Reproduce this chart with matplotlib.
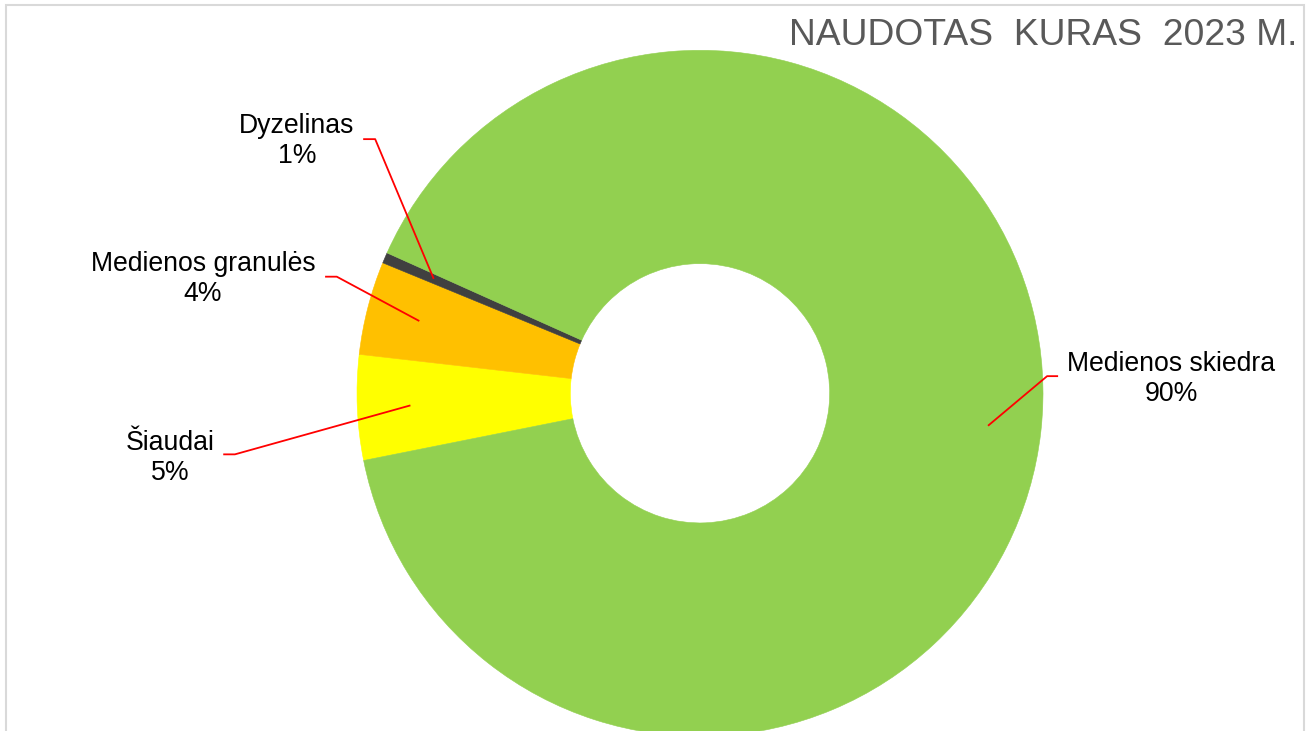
import matplotlib
matplotlib.use("Agg")
import matplotlib.pyplot as plt
import matplotlib.patches as mpatches
import numpy as np

# ── Data ───────────────────────────────────────────────────────────────────
CATEGORIES = ["Šiaudai", "Medienos granulės", "Dyzelinas", "Medienos skiedra"]
SHARES     = [4.95, 4.40, 0.50, 90.15]          # % of fuel used
COLOURS    = ["#FFFF00", "#FFC000", "#404040", "#92D050"]
TITLE      = "NAUDOTAS  KURAS  2023 M."

# label layout (data coords, pie radius = 1): text centre, leader end, elbow
LABEL_POS = {
    "Šiaudai":           ((-1.545, -0.188), (-1.390, -0.178), (-1.356, -0.178)),
    "Medienos granulės": ((-1.449, 0.333), (-1.093, 0.340), (-1.059, 0.340)),
    "Dyzelinas":         ((-1.175, 0.735), (-0.982, 0.741), (-0.947, 0.741)),
    "Medienos skiedra":  ((1.373, 0.043), (1.044, 0.050), (1.012, 0.050)),
}

W, H, DPI = 1313, 731, 100
plt.rcParams["font.family"] = ["Liberation Sans", "DejaVu Sans"]

fig = plt.figure(figsize=(W / DPI, H / DPI), dpi=DPI)

# outer chart border
fig.patches.append(mpatches.Rectangle(
    (6 / W, -0.05), 1298 / W, (H - 5) / H + 0.05,
    transform=fig.transFigure, fill=False, edgecolor="#D9D9D9", linewidth=1.5,
))

cx, cy, r = 700, H - 393.3, 343
ax = fig.add_axes([(cx - r) / W, (cy - r) / H, 2 * r / W, 2 * r / H])

wedges, _ = ax.pie(
    SHARES, colors=COLOURS, startangle=191.3, counterclock=False, radius=1,
    wedgeprops=dict(width=0.622, linewidth=0),
)
for w in wedges:
    w.set_edgecolor(w.get_facecolor())
    w.set_linewidth(0.4)
ax.set_xlim(-1, 1)
ax.set_ylim(-1, 1)
ax.set_aspect("equal")
ax.axis("off")

total = sum(SHARES)
for w, name, val in zip(wedges, CATEGORIES, SHARES):
    mid = np.deg2rad((w.theta1 + w.theta2) / 2)
    ax_x, ax_y = 0.845 * np.cos(mid), 0.845 * np.sin(mid)
    (tx, ty), (ex, ey), (kx, ky) = LABEL_POS[name]
    ax.plot([ax_x, kx, ex], [ax_y, ky, ey], color="#FF0000", linewidth=1.3,
            clip_on=False, solid_capstyle="butt")
    pct = int(np.floor(val / total * 100 + 0.5))
    ax.text(tx, ty, f"{name}\n{pct}%", ha="center", va="center",
            fontsize=19.2, color="#000000", linespacing=1.2, clip_on=False)

fig.text(1297 / W, (H - 45) / H, TITLE, ha="right", va="baseline",
         fontsize=26.8, color="#595959")

fig.savefig("out.png", dpi=DPI)
